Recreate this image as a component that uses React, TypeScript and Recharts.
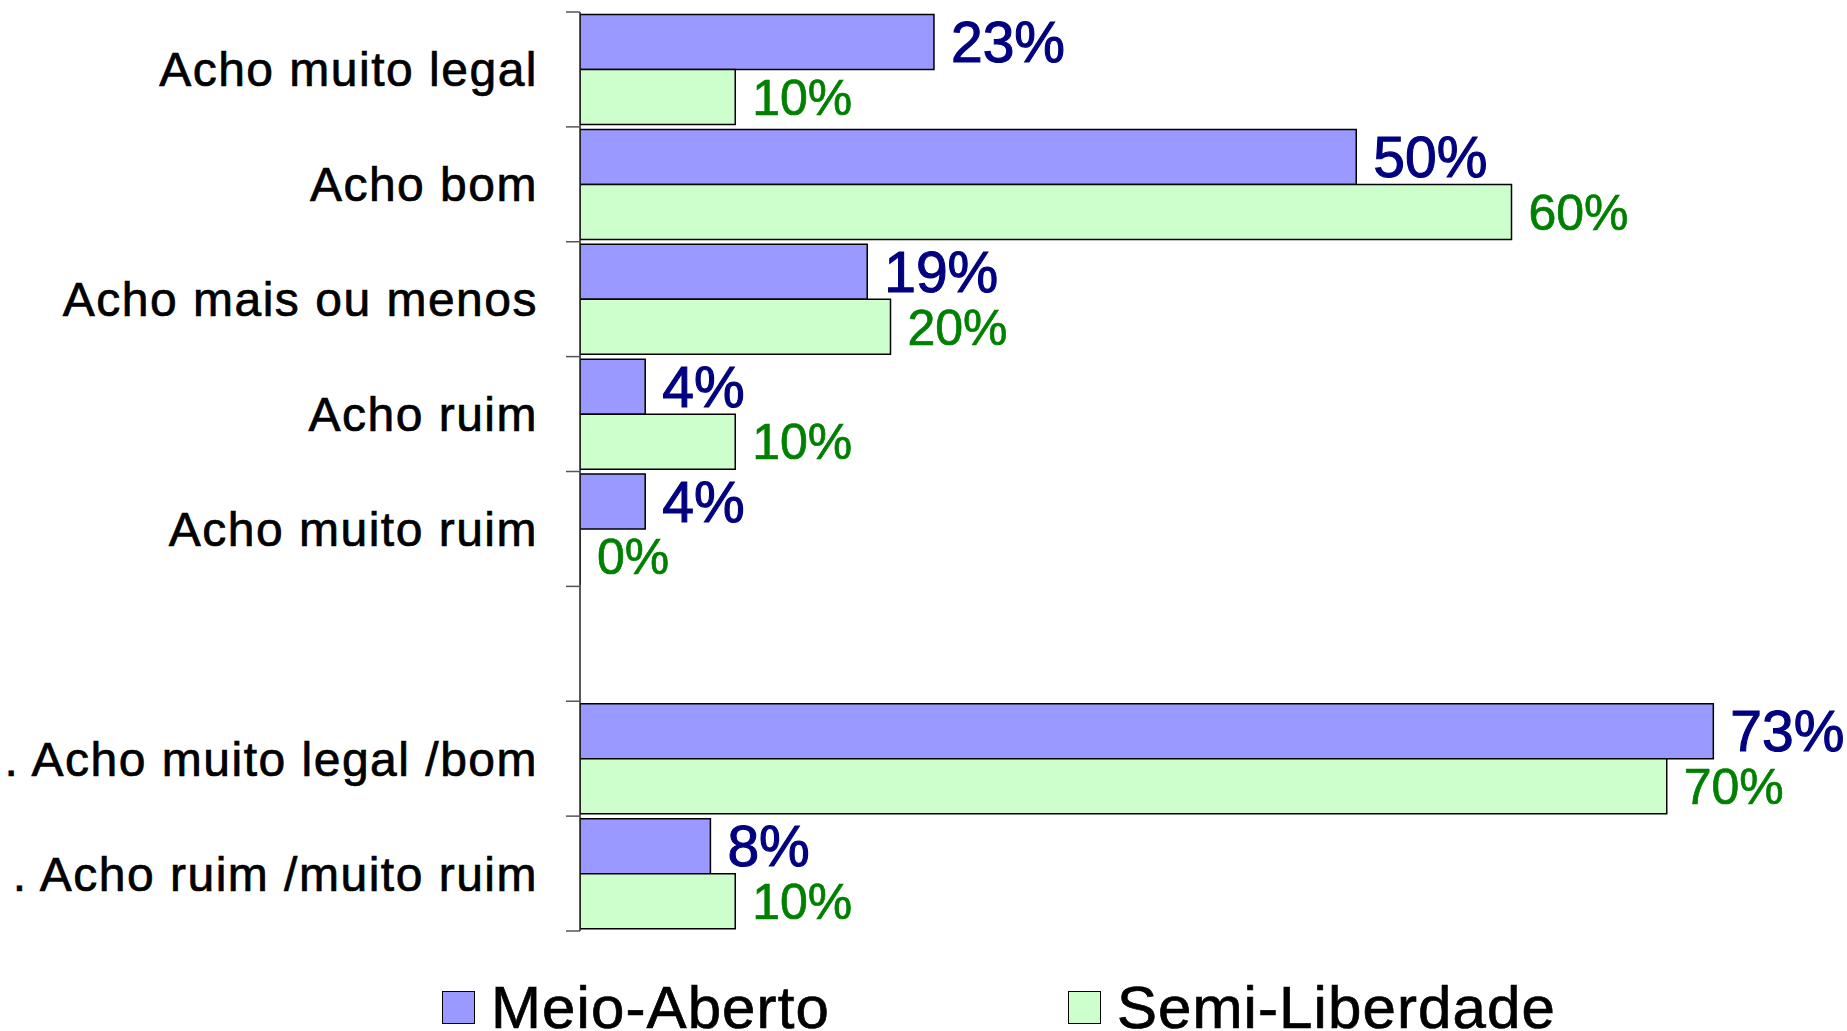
import React from 'react';
import { BarChart, Bar, XAxis, YAxis, LabelList, Legend } from 'recharts';

const categories = [
  'Acho muito legal',
  'Acho bom',
  'Acho mais ou menos',
  'Acho ruim',
  'Acho muito ruim',
  '',
  '. Acho muito legal /bom',
  '. Acho ruim /muito ruim',
];
// bar lengths (labels show them rounded)
const meioAberto = [22.8, 50, 18.5, 4.2, 4.2, null, 73, 8.4];
const semiLiberdade = [10, 60, 20, 10, 0, null, 70, 10];

const seriesNames = { meio: 'Meio-Aberto', semi: 'Semi-Liberdade' };
const colors = { meio: '#9999FF', semi: '#CCFFCC', meioText: '#000080', semiText: '#008000' };

const data = categories.map((name, i) => ({ name, meio: meioAberto[i], semi: semiLiberdade[i] }));

const FONT = '"Liberation Sans", Arial, Helvetica, sans-serif';
const TICK_SIZE = 14;
const TICK_MARGIN = 28;

const fmt = (v: any) => (v === null || v === undefined ? '' : `${Math.round(Number(v))}%`);

const makeLabel = (color: string, size: number, sw: number) => (props: any) => {
  const { x, y, width, height, value } = props;
  if (value === null || value === undefined) return null;
  const w = Number(width || 0) < 0.5 ? 0 : Number(width || 0);
  const tx = Number(x) + w + 17;
  const ty = Number(y) + Number(height || 0) / 2;
  return (
    <text
      x={tx}
      y={ty}
      dy="0.355em"
      textAnchor="start"
      fill={color}
      stroke={color}
      strokeWidth={sw}
      fontSize={size}
      fontFamily={FONT}
    >
      {fmt(value)}
    </text>
  );
};

const CategoryTick = (props: any) => {
  const { x, y, payload, index, visibleTicksCount } = props;
  const off = payload && typeof payload.offset === 'number' ? payload.offset : 0;
  const axisX = Number(x) + TICK_SIZE + TICK_MARGIN;
  const isLast = index === (visibleTicksCount ?? categories.length) - 1;
  return (
    <g>
      <line x1={axisX - TICK_SIZE} x2={axisX} y1={y - off} y2={y - off} stroke="#555" strokeWidth={1.5} />
      {isLast && (
        <line x1={axisX - TICK_SIZE} x2={axisX} y1={y + off} y2={y + off} stroke="#555" strokeWidth={1.5} />
      )}
      <text
        x={x}
        y={y}
        dy="0.355em"
        textAnchor="end"
        fill="#000"
        stroke="#000"
        strokeWidth={0.7}
        fontSize={48}
        letterSpacing={1.5}
        fontFamily={FONT}
      >
        {payload.value}
      </text>
    </g>
  );
};

const LegendContent = () => (
  <div
    style={{
      display: 'flex',
      alignItems: 'center',
      height: 47,
      paddingLeft: 442,
      fontFamily: FONT,
      fontSize: 60,
      letterSpacing: 1.1,
      color: '#000',
      WebkitTextStroke: '0.7px #000',
    }}
  >
    {[
      { key: 'meio', label: seriesNames.meio, fill: colors.meio, gap: 238 },
      { key: 'semi', label: seriesNames.semi, fill: colors.semi, gap: 0 },
    ].map((it) => (
      <div key={it.key} style={{ display: 'flex', alignItems: 'center', marginRight: it.gap }}>
        <div
          style={{
            width: 31,
            height: 31,
            background: it.fill,
            border: '1.5px solid #000',
            marginRight: 16,
          }}
        />
        <span style={{ lineHeight: '47px' }}>{it.label}</span>
      </div>
    ))}
  </div>
);

const tinyForZero = (value: any) => (Number(value) === 0 ? 0.01 : 0);

export default function App() {
  return (
    <div style={{ position: 'absolute', left: 0, top: 0, width: 1847, height: 1031, background: '#fff' }}>
      <BarChart
        width={1847}
        height={1031}
        data={data}
        layout="vertical"
        margin={{ top: 12, right: 25, bottom: 53, left: 0 }}
        barCategoryGap={2.5}
        barGap={0}
        style={{ fontFamily: FONT }}
      >
        <XAxis type="number" domain={[0, 80]} hide allowDataOverflow />
        <YAxis
          type="category"
          dataKey="name"
          width={580}
          tickLine={false}
          axisLine={{ stroke: '#222', strokeWidth: 1.5 }}
          tickSize={TICK_SIZE}
          tickMargin={TICK_MARGIN}
          interval={0}
          tick={<CategoryTick />}
        />
        <Legend
          verticalAlign="bottom"
          content={<LegendContent />}
          wrapperStyle={{ top: 984, bottom: 'auto', left: 0, width: 1847, height: 47 }}
        />
        <Bar
          dataKey="meio"
          name={seriesNames.meio}
          fill={colors.meio}
          stroke="#000"
          strokeWidth={1.5}
          isAnimationActive={false}
        >
          <LabelList dataKey="meio" content={makeLabel(colors.meioText, 57, 1.1)} />
        </Bar>
        <Bar
          dataKey="semi"
          name={seriesNames.semi}
          fill={colors.semi}
          stroke="#000"
          strokeWidth={1.5}
          minPointSize={tinyForZero}
          isAnimationActive={false}
        >
          <LabelList dataKey="semi" content={makeLabel(colors.semiText, 50, 0.7)} />
        </Bar>
      </BarChart>
    </div>
  );
}
